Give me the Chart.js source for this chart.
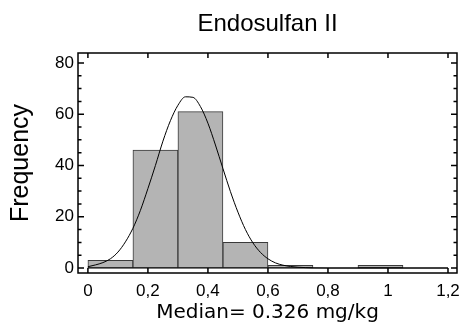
<!DOCTYPE html>
<html>
<head>
<meta charset="utf-8">
<title>Endosulfan II</title>
<script src="https://cdn.jsdelivr.net/npm/chart.js@4.4.1/dist/chart.umd.min.js"></script>
<style>
  html, body { margin: 0; padding: 0; background: #fff; }
  #wrap { width: 462px; height: 327px; }
</style>
</head>
<body>
<div id="wrap"><canvas id="histChart" width="462" height="327"></canvas></div>
<script>
// Histogram bins (mg/kg) and counts
const binStarts = [0, 0.15, 0.30, 0.45, 0.60, 0.75, 0.90, 1.05];
const binWidth = 0.15;
const counts = [3, 46, 61, 10, 1, 0, 1, 0];

// Fitted curve
const curveX = [0, 0.025, 0.05, 0.075, 0.1, 0.125, 0.15, 0.175, 0.2, 0.225, 0.25, 0.275,
    0.3, 0.325, 0.35, 0.375, 0.4, 0.425, 0.45, 0.475, 0.5, 0.525, 0.55, 0.575,
    0.6, 0.625, 0.65, 0.675, 0.7, 0.725, 0.75, 0.8, 1.2];
const curveY = [0.5, 1.2, 2.1, 3.6, 6.2, 10.2, 15.5, 22.5, 31, 40, 49.5, 57.5,
    63.5, 66.8, 66.6, 63, 56.5, 48, 38.8, 29.8, 21.8, 15, 9.8, 6.1,
    3.6, 2.0, 1.1, 0.6, 0.3, 0.15, 0.05, 0, 0];

// Axis ticks
const xTicks = [0, 0.2, 0.4, 0.6, 0.8, 1, 1.2];
const yTicks = [0, 20, 40, 60, 80];
const yMinorTicks = [5, 10, 15, 25, 30, 35, 45, 50, 55, 65, 70, 75];

const fmt = v => String(Math.round(v * 10) / 10).replace('.', ',');

// Frame, inward tick marks, zero line under the bins and the title
const framePlugin = {
    id: 'frame',
    afterDraw(chart) {
        const { ctx, chartArea: a, scales } = chart;
        const x = scales.x, y = scales.y;
        ctx.save();
        ctx.strokeStyle = '#000';
        ctx.lineWidth = 1;
        ctx.beginPath();
        const y0 = y.getPixelForValue(0);
        ctx.moveTo(x.getPixelForValue(binStarts[0]), y0);
        ctx.lineTo(x.getPixelForValue(binStarts[binStarts.length - 1] + binWidth), y0);
        ctx.stroke();

        ctx.lineWidth = 1.5;
        ctx.strokeRect(a.left, a.top, a.right - a.left, a.bottom - a.top);

        ctx.beginPath();
        xTicks.forEach(v => {
            const px = x.getPixelForValue(v);
            ctx.moveTo(px, a.bottom); ctx.lineTo(px, a.bottom - 5);
            ctx.moveTo(px, a.top); ctx.lineTo(px, a.top + 5);
        });
        yTicks.forEach(v => {
            const py = y.getPixelForValue(v);
            ctx.moveTo(a.left, py); ctx.lineTo(a.left + 6, py);
            ctx.moveTo(a.right, py); ctx.lineTo(a.right - 6, py);
        });
        yMinorTicks.forEach(v => {
            const py = y.getPixelForValue(v);
            ctx.moveTo(a.left, py); ctx.lineTo(a.left + 3.5, py);
            ctx.moveTo(a.right, py); ctx.lineTo(a.right - 3.5, py);
        });
        ctx.stroke();

        ctx.fillStyle = '#000';
        ctx.font = '24px "Liberation Sans", Arial, sans-serif';
        ctx.textAlign = 'center';
        ctx.textBaseline = 'middle';
        ctx.fillText('Endosulfan II', (a.left + a.right) / 2, 24);
        ctx.restore();
    }
};

const ctx = document.getElementById('histChart').getContext('2d');
const chart = new Chart(ctx, {
    type: 'bar',
    data: {
        datasets: [
            {
                type: 'line',
                data: curveX.map((x, i) => ({ x: x, y: curveY[i] })),
                borderColor: '#000',
                borderWidth: 1,
                pointRadius: 0,
                cubicInterpolationMode: 'monotone',
                fill: false,
                order: 0
            },
            {
                type: 'bar',
                data: binStarts.map((s, i) => ({ x: s + binWidth / 2, y: counts[i] })),
                backgroundColor: '#b4b4b4',
                borderColor: '#3a3a3a',
                borderWidth: 1,
                borderSkipped: false,
                barPercentage: 1,
                categoryPercentage: 1,
                order: 1
            }
        ]
    },
    plugins: [framePlugin],
    options: {
        responsive: false,
        animation: false,
        layout: { padding: { top: 53, right: 5, left: 0, bottom: 2 } },
        scales: {
            x: {
                type: 'linear',
                offset: false,
                min: -0.033,
                max: 1.23,
                grid: { display: false, drawTicks: false, offset: false },
                border: { display: false },
                afterBuildTicks: scale => { scale.ticks = xTicks.map(v => ({ value: v })); },
                afterFit: scale => {
                    scale.height = 52;
                    scale.paddingLeft = 0;
                    scale.paddingRight = 0;
                },
                ticks: {
                    padding: 8,
                    color: '#000',
                    maxRotation: 0,
                    autoSkip: false,
                    font: { family: '"Liberation Sans", Arial, sans-serif', size: 17 },
                    callback: v => fmt(v)
                },
                title: {
                    display: true,
                    text: 'Median= 0.326 mg/kg',
                    color: '#000',
                    padding: { top: 0, bottom: 0 },
                    font: { family: '"DejaVu Sans", Verdana, sans-serif', size: 20 }
                }
            },
            y: {
                min: -1.95,
                max: 83.9,
                grid: { display: false, drawTicks: false },
                border: { display: false },
                afterBuildTicks: scale => { scale.ticks = yTicks.map(v => ({ value: v })); },
                afterFit: scale => {
                    scale.width = 78;
                    scale.paddingTop = 0;
                    scale.paddingBottom = 0;
                },
                ticks: {
                    padding: 4,
                    color: '#000',
                    font: { family: '"Liberation Sans", Arial, sans-serif', size: 17 },
                    callback: v => fmt(v)
                },
                title: {
                    display: true,
                    text: 'Frequency',
                    color: '#000',
                    padding: { top: 6, bottom: 0 },
                    font: { family: '"Liberation Sans", Arial, sans-serif', size: 25 }
                }
            }
        },
        plugins: {
            legend: { display: false },
            tooltip: { enabled: false },
            title: { display: false }
        }
    }
});
</script>
</body>
</html>
